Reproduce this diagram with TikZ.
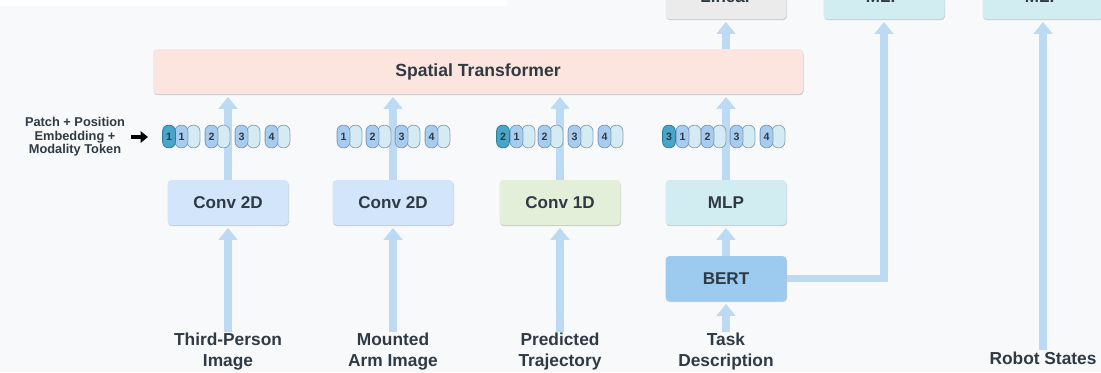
\documentclass[tikz,border=0pt]{standalone}
\usepackage{fontspec}
\setmainfont{Liberation Sans}
\usetikzlibrary{arrows.meta,shadows}

\definecolor{bg}{HTML}{F7F9FB}
\definecolor{txt}{HTML}{2F3A44}
\definecolor{flowc}{HTML}{BDDAF4}
\definecolor{stfill}{HTML}{FCE5DF}
\definecolor{linfill}{HTML}{EBEBEB}
\definecolor{mlpfill}{HTML}{D2EDF2}
\definecolor{c2dfill}{HTML}{D3E5FA}
\definecolor{c1dfill}{HTML}{E3EFD8}
\definecolor{bertfill}{HTML}{9DCBEF}
\definecolor{numfill}{HTML}{A8CCEE}
\definecolor{numdraw}{HTML}{7C9EBD}
\definecolor{litfill}{HTML}{D5EBF3}
\definecolor{litdraw}{HTML}{8DA6B6}
\definecolor{modfill}{HTML}{4AA6C8}
\definecolor{moddraw}{HTML}{2E7E9C}

\begin{document}
\begin{tikzpicture}[x=0.75pt,y=-0.75pt,
  box/.style={rounded corners=3pt, draw=none, inner sep=0pt,
    minimum width=90.75pt, minimum height=33.75pt, text=txt,
    font=\bfseries\fontsize{12.8}{14}\selectfont,
    drop shadow={shadow xshift=0.4pt, shadow yshift=-0.9pt, fill=black, opacity=0.18}},
  inlabel/.style={align=center, text=txt, inner sep=1pt,
    font=\bfseries\fontsize{13}{15.75}\selectfont},
  flow/.style={draw=flowc, line width=5.4pt,
    -{Triangle[width=14pt,length=9pt]}, shorten >=2pt},
  pill/.style={rectangle, rounded corners=4.5pt, line width=0.6pt,
    minimum width=9.6pt, minimum height=17pt, inner sep=0pt, text=txt,
    font=\bfseries\fontsize{8}{9}\selectfont},
  numpill/.style={pill, fill=numfill, draw=numdraw},
  litpill/.style={pill, fill=litfill, draw=litdraw},
  modpill/.style={pill, fill=modfill, draw=moddraw},
]
\useasboundingbox (0,0) rectangle (1101,372);
\clip (0,0) rectangle (1101,372);
\fill[bg] (0,0) rectangle (1101,372);
\fill[white] (0,0) rectangle (507,6);

% main blocks
\node[box, fill=stfill, minimum width=487.5pt, font=\bfseries\fontsize{13.2}{15}\selectfont]
  (st) at (478,71.5) {Spatial Transformer};
\node[box, fill=linfill] (lin) at (726,-3.5) {Linear};
\node[box, fill=mlpfill] (mlpA) at (884,-3.5) {MLP};
\node[box, fill=mlpfill] (mlpB) at (1043,-3.5) {MLP};

\node[box, fill=c2dfill] (c1) at (228,202.5) {Conv 2D};
\node[box, fill=c2dfill] (c2) at (393,202.5) {Conv 2D};
\node[box, fill=c1dfill] (c3) at (560,202.5) {Conv 1D};
\node[box, fill=mlpfill] (mlp) at (726,202.5) {MLP};
\node[box, fill=bertfill] (bert) at (726,278.5) {BERT};

% inputs
\node[inlabel] (l1) at (228,352) {Third-Person\\Image};
\node[inlabel] (l2) at (393,352) {Mounted\\Arm Image};
\node[inlabel] (l3) at (560,352) {Predicted\\Trajectory};
\node[inlabel] (l4) at (726,352) {Task\\Description};
\node[inlabel] (l5) at (1043,358) {Robot States};

% flows
\foreach \c in {c1,c2,c3,mlp}{
  \draw[flow] (\c.north) -- (\c.north |- st.south);
}
\foreach \l/\c in {l1/c1,l2/c2,l3/c3}{
  \draw[flow] (\l.north) -- (\c.south);
}
\draw[flow] (l4.north) -- (bert.south);
\draw[flow] (bert.north) -- (mlp.south);
\draw[flow] (st.north -| lin) -- (lin.south);
\draw[flow, line join=miter] (bert.east) -| (mlpA.south);
\draw[flow] (l5.north) -- (mlpB.south);

% token legend
\node[align=center, text=txt, inner sep=1pt,
  font=\bfseries\fontsize{9.6}{10.2}\selectfont] (pe) at (75,137)
  {Patch + Position\\Embedding +\\Modality Token};
\coordinate (tokin) at (148,137);
\draw[draw=black, line width=2.8pt, -{Triangle[width=8.5pt,length=5.5pt]},
  shorten <=3pt] (pe.east) -- (tokin);

% token rows: light pill first, numbered pill over it
\foreach \g/\xa/\xb/\xc/\xd in {1/175/205/235/265, 2/337/366/395/425,
                                3/510/538/568/598, 4/676/701/730/760}{
  \foreach \k/\x in {1/\xa,2/\xb,3/\xc,4/\xd}{
    \node[litpill] (tl\g\k) at (\x+18.5,136.5) {};
    \node[numpill] (tn\g\k) at (\x+6.5,136.5) {\k};
  }
}
% modality tokens
\node[modpill] (m1) at (169,136.5) {1};
\node[modpill] (m3) at (503,136.5) {2};
\node[modpill] (m4) at (669,136.5) {3};
\end{tikzpicture}
\end{document}
